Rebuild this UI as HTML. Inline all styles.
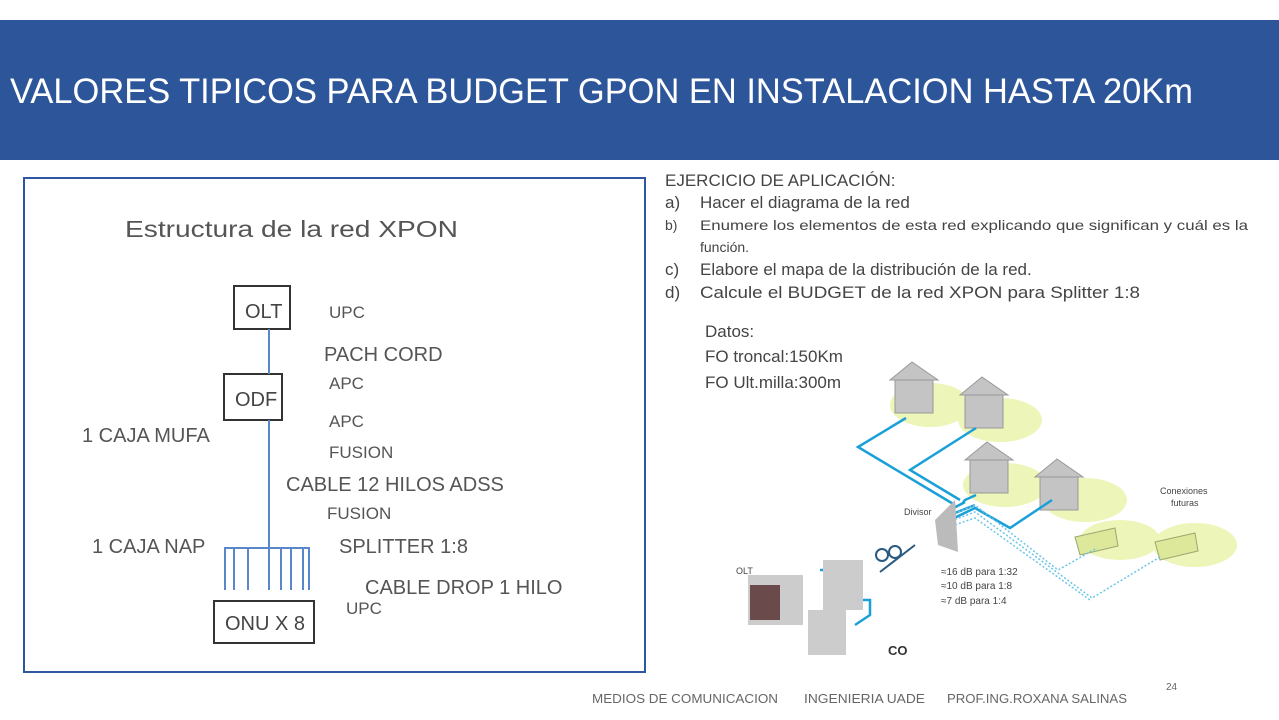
<!DOCTYPE html>
<html><head><meta charset="utf-8"><style>
html,body{margin:0;padding:0;background:#fff}
svg{display:block}
text{font-family:"Liberation Sans",sans-serif}
</style></head><body>
<svg width="1279" height="720" viewBox="0 0 1279 720" xmlns="http://www.w3.org/2000/svg">
<rect x="0" y="20" width="1279" height="140" fill="#2d5599"/>
<text x="10" y="103" font-size="35" fill="#fff" textLength="1183" lengthAdjust="spacingAndGlyphs">VALORES TIPICOS PARA BUDGET GPON EN INSTALACION HASTA 20Km</text>

<rect x="24" y="178" width="621" height="494" fill="none" stroke="#2f56a0" stroke-width="2"/>
<text x="125" y="237" font-size="23" fill="#555" textLength="333" lengthAdjust="spacingAndGlyphs">Estructura de la red XPON</text>

<g fill="none" stroke="#333" stroke-width="2">
<rect x="234" y="286" width="56" height="43"/>
<rect x="224" y="374" width="58" height="46"/>
<rect x="214" y="601" width="100" height="42"/>
</g>
<g stroke="#5a87c8" stroke-width="2">
<line x1="269" y1="329" x2="269" y2="374"/>
<line x1="269" y1="420" x2="269" y2="548"/>
<line x1="224" y1="548" x2="310" y2="548"/>
<line x1="225" y1="548" x2="225" y2="590"/><line x1="234" y1="548" x2="234" y2="590"/>
<line x1="248" y1="548" x2="248" y2="590"/><line x1="269" y1="548" x2="269" y2="590"/>
<line x1="281" y1="548" x2="281" y2="590"/><line x1="291" y1="548" x2="291" y2="590"/>
<line x1="303" y1="548" x2="303" y2="590"/><line x1="309" y1="548" x2="309" y2="590"/>
</g>
<g fill="#444" font-size="20">
<text x="245" y="318">OLT</text>
<text x="235" y="406">ODF</text>
<text x="225" y="630">ONU X 8</text>
</g>
<g fill="#555" font-size="17">
<text x="329" y="318">UPC</text>
<text x="329" y="389">APC</text>
<text x="329" y="427">APC</text>
<text x="329" y="458">FUSION</text>
<text x="327" y="519">FUSION</text>
<text x="346" y="614">UPC</text>
</g>
<g fill="#555" font-size="20">
<text x="324" y="361">PACH CORD</text>
<text x="82" y="442">1 CAJA MUFA</text>
<text x="286" y="491">CABLE 12 HILOS ADSS</text>
<text x="92" y="553">1 CAJA NAP</text>
<text x="339" y="553">SPLITTER 1:8</text>
<text x="365" y="594">CABLE DROP 1 HILO</text>
</g>

<g fill="#444" font-size="17">
<text x="665" y="186">EJERCICIO DE APLICACIÓN:</text>
<text x="665" y="208">a)</text><text x="700" y="208">Hacer el diagrama de la red</text>
<text x="665" y="230" font-size="14">b)</text><text x="700" y="230" font-size="14" textLength="548" lengthAdjust="spacingAndGlyphs">Enumere los elementos de esta red explicando que significan y cuál es la</text>
<text x="700" y="252" font-size="14">función.</text>
<text x="665" y="275">c)</text><text x="700" y="275">Elabore el mapa de la distribución de la red.</text>
<text x="665" y="298">d)</text><text x="700" y="298" textLength="440" lengthAdjust="spacingAndGlyphs">Calcule el BUDGET de la red XPON para Splitter 1:8</text>
<text x="705" y="337">Datos:</text>
<text x="705" y="362">FO troncal:150Km</text>
<text x="705" y="388">FO Ult.milla:300m</text>
</g>

<g>
<ellipse cx="930" cy="405" rx="40" ry="22" fill="#eef5b8"/>
<ellipse cx="1000" cy="420" rx="42" ry="22" fill="#eef5b8"/>
<ellipse cx="1005" cy="485" rx="42" ry="22" fill="#eef5b8"/>
<ellipse cx="1085" cy="500" rx="42" ry="22" fill="#eef5b8"/>
<ellipse cx="1120" cy="540" rx="40" ry="20" fill="#eef5b8"/>
<ellipse cx="1195" cy="545" rx="42" ry="22" fill="#eef5b8"/>
<polygon points="1075,537 1115,528 1118,546 1080,555" fill="#dde89a" stroke="#9aa870"/>
<polygon points="1155,542 1195,533 1198,551 1160,560" fill="#dde89a" stroke="#9aa870"/>
<g fill="#c4c4c4" stroke="#999">
<rect x="895" y="378" width="38" height="35"/><polygon points="890,380 912,362 938,380"/>
<rect x="965" y="393" width="38" height="35"/><polygon points="960,395 982,377 1008,395"/>
<rect x="970" y="458" width="38" height="35"/><polygon points="965,460 987,442 1013,460"/>
<rect x="1040" y="475" width="38" height="35"/><polygon points="1035,477 1057,459 1083,477"/>
</g>
<g fill="none" stroke="#1aa0d8" stroke-width="2.5">
<polyline points="906,418 858,447 955,505"/>
<polyline points="976,428 910,470 960,500"/>
<polyline points="976,495 965,500 962,504"/>
<polyline points="1052,500 1010,528 975,508 950,520"/>
<line x1="950" y1="510" x2="965" y2="502"/>
<line x1="950" y1="515" x2="975" y2="505"/>
<polyline points="820,570 845,570 845,595 855,595"/>
<polyline points="840,600 870,600 870,615 855,625"/>
</g>
<g fill="none" stroke="#6cc5e8" stroke-width="1.5" stroke-dasharray="2,2">
<polyline points="940,520 975,505 1058,570 1097,548"/>
<polyline points="940,525 975,512 1092,598 1160,557"/>
<polyline points="940,530 975,518 1090,600"/>
</g>
<polygon points="935,520 955,500 958,552 938,545" fill="#bbb"/>
<line x1="880" y1="572" x2="915" y2="545" stroke="#2a5a80" stroke-width="2"/>
<circle cx="882" cy="555" r="6" fill="none" stroke="#2a5a80" stroke-width="2"/>
<circle cx="895" cy="552" r="6" fill="none" stroke="#2a5a80" stroke-width="2"/>
<rect x="748" y="575" width="55" height="50" fill="#ccc"/>
<rect x="750" y="585" width="30" height="35" fill="#6a4a4a"/>
<rect x="823" y="560" width="40" height="50" fill="#ccc"/>
<rect x="808" y="610" width="38" height="45" fill="#ccc"/>
<g fill="#444" font-size="9">
<text x="736" y="574">OLT</text>
<text x="904" y="515">Divisor</text>
<text x="1160" y="494">Conexiones</text>
<text x="1171" y="506">futuras</text>
<text x="941" y="575" font-size="10">≈16 dB para 1:32</text>
<text x="941" y="589" font-size="10">≈10 dB para 1:8</text>
<text x="941" y="604" font-size="10">≈7 dB para 1:4</text>
</g>
<text x="888" y="655" font-size="13" font-weight="bold" fill="#333">CO</text>
</g>

<g fill="#666" font-size="13">
<text x="592" y="703" textLength="186" lengthAdjust="spacingAndGlyphs">MEDIOS DE COMUNICACION</text>
<text x="804" y="703" textLength="121" lengthAdjust="spacingAndGlyphs">INGENIERIA  UADE</text>
<text x="947" y="703" textLength="180" lengthAdjust="spacingAndGlyphs">PROF.ING.ROXANA SALINAS</text>
<text x="1166" y="690" font-size="10">24</text>
</g>
</svg>
</body></html>
